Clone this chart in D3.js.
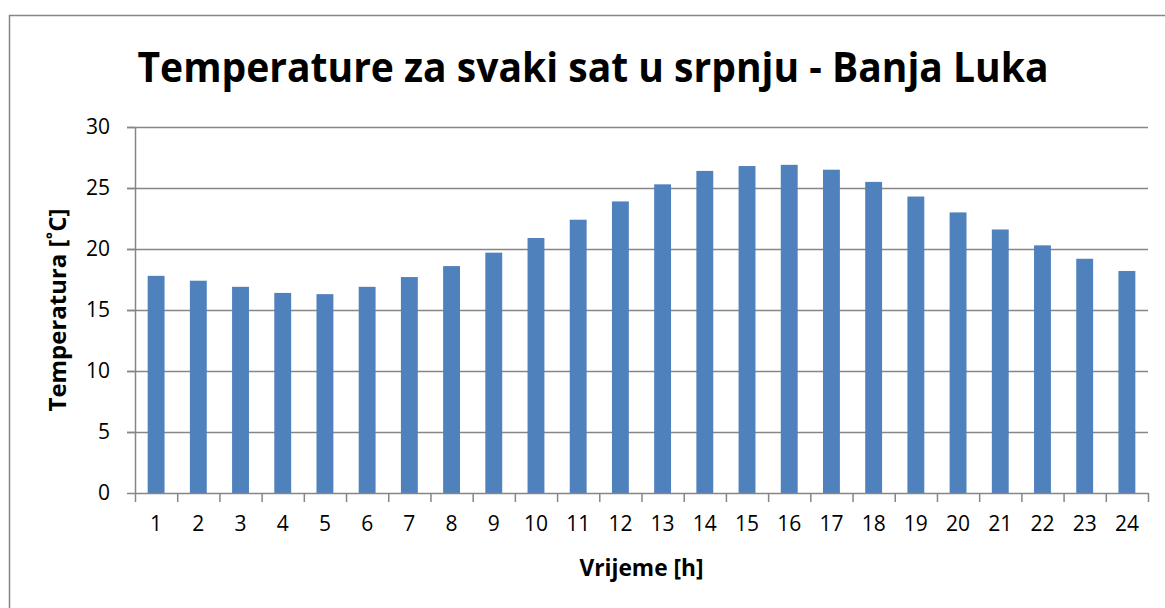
<!DOCTYPE html>
<html>
<head>
<meta charset="utf-8">
<script src="https://cdn.jsdelivr.net/npm/d3@7"></script>
<style>
  body { margin: 0; background: #fff; }
  svg { display: block; }
  text { font-family: "Open Sans", "Noto Sans", sans-serif; fill: #000; }
</style>
</head>
<body>
<div id="chart"></div>
<script>
// data
var hours = ["1","2","3","4","5","6","7","8","9","10","11","12","13","14","15","16","17","18","19","20","21","22","23","24"];
var temps = [17.8, 17.4, 16.9, 16.4, 16.3, 16.9, 17.7, 18.6, 19.7, 20.9, 22.4, 23.9, 25.3, 26.4, 26.8, 26.9, 26.5, 25.5, 24.3, 23.0, 21.6, 20.3, 19.2, 18.2];
var yTicks = [0, 5, 10, 15, 20, 25, 30];

var titleText = "Temperature za svaki sat u srpnju - Banja Luka";
var xLabel = "Vrijeme [h]";
var yLabel = "Temperatura [˚C]";

var svgWidth = 1165;
var svgHeight = 608;

var margin = {
  top: 127,
  right: 17,
  bottom: 115,
  left: 135
};

var width = svgWidth - margin.left - margin.right;
var height = svgHeight - margin.top - margin.bottom;

var svg = d3.select("#chart")
  .append("svg")
  .attr("width", svgWidth)
  .attr("height", svgHeight);

// outer chart border
svg.append("rect")
  .attr("x", 9.5)
  .attr("y", 15.5)
  .attr("width", 1165)
  .attr("height", 620)
  .attr("fill", "none")
  .attr("stroke", "#868686")
  .attr("stroke-width", 1.5);

var chartGroup = svg.append("g")
  .attr("transform", `translate(${margin.left}, ${margin.top})`);

var xBand = d3.scaleBand()
  .domain(hours)
  .range([0, width])
  .paddingInner(0.6)
  .paddingOuter(0.3);

var xEdges = d3.scaleLinear()
  .domain([0, hours.length])
  .range([0, width]);

var yLinearScale = d3.scaleLinear()
  .domain([0, 30])
  .range([height, 0]);

// gridlines
chartGroup.append("g")
  .selectAll("line")
  .data(yTicks.filter(d => d > 0))
  .enter()
  .append("line")
  .attr("x1", -8)
  .attr("x2", width)
  .attr("y1", d => Math.round(yLinearScale(d)) + 0.5)
  .attr("y2", d => Math.round(yLinearScale(d)) + 0.5)
  .attr("stroke", "#868686")
  .attr("stroke-width", 1.5);

// bars
chartGroup.selectAll(".bar")
  .data(temps)
  .enter()
  .append("rect")
  .attr("class", "bar")
  .attr("x", (d, i) => xBand(hours[i]))
  .attr("width", xBand.bandwidth())
  .attr("y", d => yLinearScale(d))
  .attr("height", d => height - yLinearScale(d))
  .attr("fill", "#4F81BD");

// y axis
var leftAxis = d3.axisLeft(yLinearScale)
  .tickValues(yTicks)
  .tickSize(8)
  .tickSizeOuter(0)
  .tickPadding(17);

var yAxis = chartGroup.append("g").call(leftAxis);
yAxis.select(".domain").attr("stroke", "#868686").attr("stroke-width", 1.5);
yAxis.selectAll(".tick line").attr("stroke", "#868686").attr("stroke-width", 1.5);
yAxis.selectAll("text")
  .style("font-size", "21px")
  .style("font-family", "'Open Sans', sans-serif")
  .attr("fill", "#000");

// x axis - tick marks on category edges
var edgeAxis = d3.axisBottom(xEdges)
  .tickValues(d3.range(0, hours.length + 1))
  .tickSize(9)
  .tickSizeOuter(0)
  .tickFormat("");

var xAxisEdges = chartGroup.append("g")
  .attr("transform", `translate(0, ${height})`)
  .call(edgeAxis);
xAxisEdges.select(".domain").attr("stroke", "#868686").attr("stroke-width", 1.5);
xAxisEdges.selectAll(".tick line").attr("stroke", "#868686").attr("stroke-width", 1.5);

// x axis - labels
var bottomAxis = d3.axisBottom(xBand)
  .tickSize(0)
  .tickPadding(23);

var xAxis = chartGroup.append("g")
  .attr("transform", `translate(0, ${height})`)
  .call(bottomAxis);
xAxis.select(".domain").remove();
xAxis.selectAll("text")
  .style("font-size", "21px")
  .style("font-family", "'Open Sans', sans-serif")
  .attr("fill", "#000");

// resize a text so it spans the width seen in the picture
function fitText(sel, target) {
  var w = sel.node().getComputedTextLength();
  var fs = parseFloat(sel.style("font-size"));
  sel.style("font-size", (fs * target / w) + "px");
}

var title = svg.append("text")
  .attr("x", 593)
  .attr("y", 82)
  .attr("text-anchor", "middle")
  .style("font-size", "41px")
  .style("font-weight", "bold")
  .attr("textLength", 911)
  .attr("lengthAdjust", "spacingAndGlyphs")
  .text(titleText);

var xTitle = svg.append("text")
  .attr("x", margin.left + width / 2)
  .attr("y", 576)
  .attr("text-anchor", "middle")
  .style("font-size", "18px")
  .style("font-weight", "bold")
  .text(xLabel);
fitText(xTitle, 124);

var yTitle = svg.append("text")
  .attr("transform", `translate(66, ${margin.top + height / 2}) rotate(-90)`)
  .attr("text-anchor", "middle")
  .style("font-size", "18px")
  .style("font-weight", "bold")
  .text(yLabel);
fitText(yTitle, 203);
</script>
</body>
</html>
